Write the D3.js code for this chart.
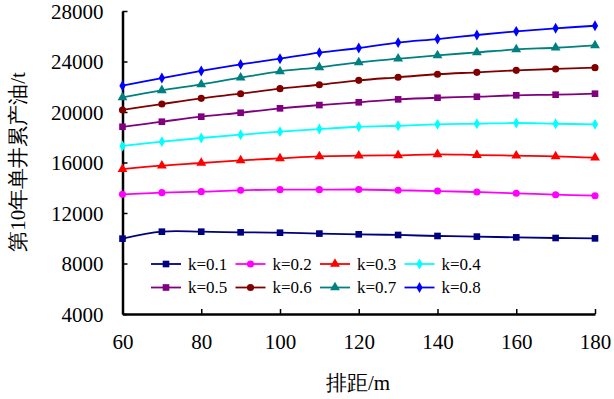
<!DOCTYPE html>
<html lang="zh">
<head>
<meta charset="utf-8">
<title></title>
<style>
  body { margin: 0; background: #fff; }
  text { font-family: "Liberation Serif", "DejaVu Serif", serif; }
</style>
</head>
<body>
<svg id="chart"></svg>
<script src="https://cdn.jsdelivr.net/npm/d3@7/dist/d3.min.js"></script>
<script>
const spacing = [60, 70, 80, 90, 100, 110, 120, 130, 140, 150, 160, 170, 180];
const seriesNames = ["k=0.1", "k=0.2", "k=0.3", "k=0.4", "k=0.5", "k=0.6", "k=0.7", "k=0.8"];
const k01 = [9970, 10520, 10520, 10470, 10440, 10370, 10310, 10260, 10180, 10130, 10070, 10020, 9990];
const k02 = [13480, 13610, 13690, 13800, 13850, 13850, 13860, 13800, 13740, 13660, 13560, 13450, 13370];
const k03 = [15480, 15750, 15960, 16170, 16330, 16490, 16540, 16570, 16650, 16590, 16540, 16490, 16380];
const k04 = [17310, 17650, 17940, 18200, 18440, 18650, 18830, 18910, 19020, 19070, 19130, 19070, 19020];
const k05 = [18830, 19230, 19630, 19940, 20290, 20550, 20770, 21000, 21130, 21210, 21320, 21370, 21450];
const k06 = [20160, 20630, 21080, 21450, 21850, 22160, 22510, 22750, 22990, 23140, 23300, 23410, 23510];
const k07 = [21160, 21720, 22190, 22720, 23220, 23540, 23930, 24220, 24490, 24720, 24960, 25090, 25280];
const k08 = [22080, 22690, 23250, 23770, 24220, 24700, 25070, 25500, 25780, 26100, 26390, 26630, 26830];
const xTicks = [60, 80, 100, 120, 140, 160, 180];
const yTicks = [4000, 8000, 12000, 16000, 20000, 24000, 28000];

const colors = ["#000080", "#ff00ff", "#ff0000", "#00ffff", "#800080", "#800000", "#008080", "#0000ff"];
const shapes = ["square", "circle", "triangle", "diamond", "square", "circle", "triangle", "diamond"];
const allSeries = [k01, k02, k03, k04, k05, k06, k07, k08];

const serif = "\"Liberation Serif\", \"DejaVu Serif\", serif";
const W = 614, H = 399;
const margin = {left: 122.5, right: 19, top: 11, bottom: 85};

const svg = d3.select("#chart").attr("width", W).attr("height", H);

const x = d3.scaleLinear().domain([60, 180]).range([margin.left, W - margin.right]);
const y = d3.scaleLinear().domain([4000, 28000]).range([H - margin.bottom, margin.top]);

// axes
const xAxis = d3.axisBottom(x).tickValues(xTicks).tickFormat(d3.format("d"))
  .tickSize(-5).tickSizeOuter(0).tickPadding(20);
const yAxis = d3.axisLeft(y).tickValues(yTicks).tickFormat(d3.format("d"))
  .tickSize(-5).tickSizeOuter(0).tickPadding(19);

const gx = svg.append("g").attr("transform", "translate(0," + (H - margin.bottom) + ")").call(xAxis);
const gy = svg.append("g").attr("transform", "translate(" + margin.left + ",0)").call(yAxis);
[gx, gy].forEach(g => {
  g.attr("font-family", serif).attr("font-size", 21);
  g.select(".domain").attr("stroke", "#000").attr("stroke-width", 2.5);
  g.selectAll(".tick line").attr("stroke", "#000").attr("stroke-width", 1.5);
  g.selectAll(".tick text").attr("font-family", serif);
});
gx.selectAll(".tick text").attr("dy", "0.71em");
gy.selectAll(".tick text").attr("dy", "0.35em");

// titles
svg.append("text")
  .attr("x", 358).attr("y", 390)
  .attr("text-anchor", "middle")
  .attr("font-family", serif)
  .attr("font-size", 21)
  .text("排距/m");
svg.append("text")
  .attr("transform", "translate(25,162) rotate(-90)")
  .attr("text-anchor", "middle")
  .attr("font-family", serif)
  .attr("font-size", 21)
  .text("第10年单井累产油/t");

function symbolFor(shape) {
  if (shape === "square") return d3.symbol().type(d3.symbolSquare).size(44);
  if (shape === "circle") return d3.symbol().type(d3.symbolCircle).size(40);
  if (shape === "triangle") return d3.symbol().type(d3.symbolTriangle).size(42);
  return d3.symbol().type(d3.symbolDiamond).size(34);
}

const line = d3.line()
  .x(d => x(d[0]))
  .y(d => y(d[1]))
  .curve(d3.curveCatmullRom.alpha(0.5));

const plot = svg.append("g");
allSeries.forEach((vals, i) => {
  const pts = spacing.map((s, j) => [s, vals[j]]);
  plot.append("path")
    .datum(pts)
    .attr("fill", "none")
    .attr("stroke", colors[i])
    .attr("stroke-width", 1.8)
    .attr("d", line);
  plot.selectAll(".m" + i)
    .data(pts)
    .enter().append("path")
    .attr("class", "m" + i)
    .attr("transform", d => "translate(" + x(d[0]) + "," + y(d[1]) + ")")
    .attr("d", symbolFor(shapes[i])())
    .attr("fill", colors[i]);
});

// legend
const legend = svg.append("g");
seriesNames.forEach((name, i) => {
  const col = i % 4, row = Math.floor(i / 4);
  const lx = 151 + col * 84.5;
  const ly = 264 + row * 23.5;
  legend.append("line")
    .attr("x1", lx).attr("x2", lx + 30)
    .attr("y1", ly).attr("y2", ly)
    .attr("stroke", colors[i]).attr("stroke-width", 1.8);
  legend.append("path")
    .attr("transform", "translate(" + (lx + 15) + "," + ly + ")")
    .attr("d", symbolFor(shapes[i])())
    .attr("fill", colors[i]);
  legend.append("text")
    .attr("x", lx + 37).attr("y", ly)
    .attr("dy", "0.35em")
    .attr("font-family", serif)
    .attr("font-size", 17)
    .text(name);
});
</script>
</body>
</html>
